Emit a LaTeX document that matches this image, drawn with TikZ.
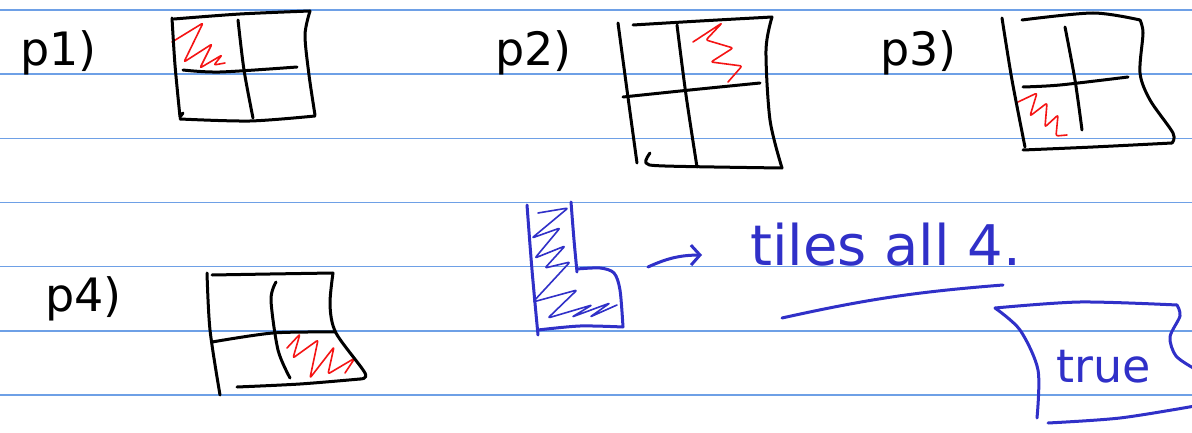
\documentclass[tikz,border=0pt]{standalone}
\usepackage{fontspec}
\setmainfont{DejaVu Sans}
\usetikzlibrary{arrows.meta, positioning}
\definecolor{RuleBlue}{RGB}{110, 160, 230}
\definecolor{InkBlue}{RGB}{48, 48, 200}
\definecolor{InkRed}{RGB}{245, 20, 20}

\begin{document}
\begin{tikzpicture}[x=1pt, y=-1pt,
    ink/.style={line width=3pt, line cap=round, line join=round},
    hatch/.style={line width=1.6pt, line cap=round, line join=round, rounded corners=2pt},
    hand/.style={inner sep=0pt, anchor=base west, font=\fontsize{46}{50}\selectfont}]
  \useasboundingbox (0,0) rectangle (1192,433);
  \fill[white] (0,0) rectangle (1192,433);

  % ruled paper
  \foreach \i in {0,...,6}
    \draw[RuleBlue, line width=1.5pt] (0,10+64.15*\i) -- (1192,10+64.15*\i);

  % labels
  \node[hand] (lblA) at (20,66) {p1)};
  \node[hand] (lblB) at (495,66) {p2)};
  \node[hand] (lblC) at (880,66) {p3)};
  \node[hand] (lblD) at (45,311) {p4)};

  % board p1
  \draw[InkRed, hatch] (172,42) -- (203,23) -- (184,62) -- (212,44) -- (200,68) -- (222,55) -- (214,65) -- (225,63);
  \draw[ink] plot[smooth] coordinates {(172,18) (175,65) (180,117)} -- (183,113);
  \draw[ink] plot[smooth] coordinates {(174,19) (240,14) (310,11)};
  \draw[ink] plot[smooth] coordinates {(310,11) (305,35) (309,75) (315,115)};
  \draw[ink] plot[smooth] coordinates {(180,119) (250,121) (315,116)};
  \draw[ink] plot[smooth] coordinates {(238,20) (244,70) (253,118)};
  \draw[ink] plot[smooth] coordinates {(183,70) (220,72) (297,67)};

  % board p2
  \draw[InkRed, hatch] (693,42) -- (722,23) -- (706,40) -- (733,48) -- (711,62) -- (742,66) -- (728,82);
  \draw[ink] plot[smooth] coordinates {(618,23) (627,90) (637,163)};
  \draw[ink] plot[smooth] coordinates {(633,25) (700,21) (772,17)};
  \draw[ink] plot[smooth] coordinates {(772,17) (766,50) (770,120) (782,168)};
  \draw[ink] plot[smooth] coordinates {(650,153) (646,163) (665,166) (782,168)};
  \draw[ink] plot[smooth] coordinates {(677,25) (686,95) (697,167)};
  \draw[ink] plot[smooth] coordinates {(623,97) (690,90) (760,83)};

  % board p3
  \draw[InkRed, hatch] (1018,102) -- (1037,93) -- (1030,116) -- (1047,103) -- (1045,127) -- (1058,115) -- (1056,136) -- (1067,135);
  \draw[ink] plot[smooth] coordinates {(1002,18) (1012,80) (1025,147)};
  \draw[ink] plot[smooth] coordinates {(1022,20) (1093,13) (1140,20)};
  \draw[ink] plot[smooth] coordinates {(1140,20) (1143,33) (1140,73) (1150,100) (1173,133) (1172,143)};
  \draw[ink] plot[smooth] coordinates {(1023,150) (1093,147) (1172,143)};
  \draw[ink] plot[smooth] coordinates {(1065,27) (1075,80) (1082,130)};
  \draw[ink] plot[smooth] coordinates {(1023,87) (1060,85) (1128,77)};

  % board p4
  \draw[InkRed, hatch] (287,348) -- (300,334) -- (293,358) -- (318,340) -- (310,378) -- (334,347) -- (328,374) -- (355,358) -- (345,373);
  \draw[ink] plot[smooth] coordinates {(207,273) (210,330) (220,395)};
  \draw[ink] plot[smooth] coordinates {(212,275) (270,274) (333,273)};
  \draw[ink] plot[smooth] coordinates {(333,273) (330,305) (336,333) (365,373) (360,379)};
  \draw[ink] plot[smooth] coordinates {(360,379) (300,384) (237,387)};
  \draw[ink] plot[smooth] coordinates {(276,282) (271,300) (278,350) (290,378)};
  \draw[ink] plot[smooth] coordinates {(212,342) (273,333) (335,332)};

  % L piece
  \draw[InkBlue, hatch] (538,213) -- (568,208) -- (532,238) -- (560,228) -- (535,258) -- (565,246) -- (545,268) -- (570,262)
    -- (533,302) -- (577,290) -- (548,318) -- (592,305) -- (572,317) -- (610,303) -- (590,317) -- (617,305);
  \draw[InkBlue, ink] plot[smooth] coordinates {(527,205) (532,270) (538,335)};
  \draw[InkBlue, ink] plot[smooth] coordinates {(571,202) (574,240) (577,272)};
  \draw[InkBlue, ink] plot[smooth] coordinates {(577,269) (600,268) (614,273) (620,290) (623,327)};
  \draw[InkBlue, ink] plot[smooth] coordinates {(538,330) (580,326) (623,327)};
  \coordinate (Lright) at (648,267);

  % claim
  \node[hand, InkBlue, font=\fontsize{56}{60}\selectfont] (tiles) at (750,265) {tiles all 4.};
  \coordinate (tilesin) at (702,255);
  \draw[InkBlue, ink, -{Straight Barb[length=9pt, width=20pt]}] (Lright) to[bend left=12] (tilesin);
  \draw[InkBlue, ink] (782,318) to[bend left=4] (1003,285);

  % verdict
  \node[hand, InkBlue, anchor=base, font=\fontsize{46}{50}\selectfont] (verdict) at (1104,382) {true};
  \draw[InkBlue, ink] plot[smooth] coordinates {(995,308) (1080,302) (1177,305)};
  \draw[InkBlue, ink] plot[smooth] coordinates {(1177,305) (1180,316) (1170,337) (1176,356) (1195,369)};
  \draw[InkBlue, ink] plot[smooth] coordinates {(995,308) (1020,330) (1038,370) (1037,418)};
  \draw[InkBlue, ink] plot[smooth] coordinates {(1048,423) (1120,418) (1195,406)};
\end{tikzpicture}
\end{document}
